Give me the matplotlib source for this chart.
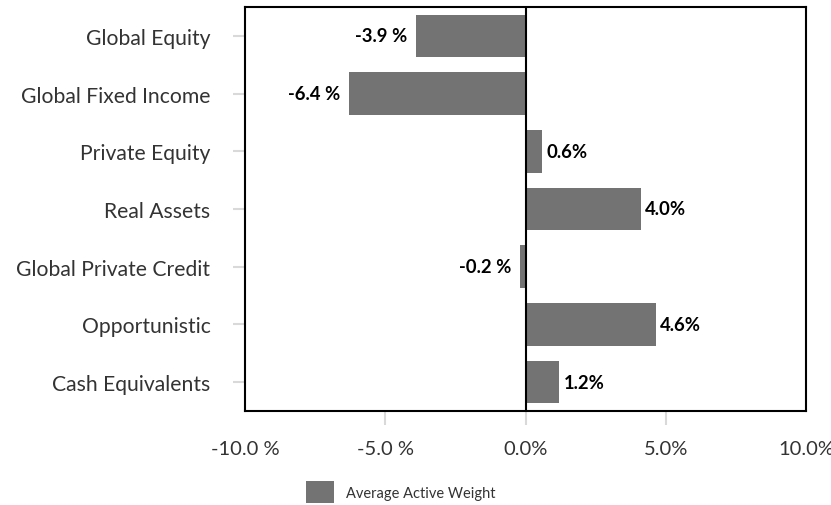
import matplotlib
matplotlib.use("Agg")
import matplotlib.pyplot as plt
from matplotlib.patches import Patch

categories = ["Global Equity", "Global Fixed Income", "Private Equity", "Real Assets",
              "Global Private Credit", "Opportunistic", "Cash Equivalents"]
values = [-3.9, -6.3, 0.6, 4.1, -0.2, 4.65, 1.2]
value_labels = ["-3.9 %", "-6.4 %", "0.6%", "4.0%", "-0.2 %", "4.6%", "1.2%"]
xticks = [-10, -5, 0, 5, 10]
xtick_labels = ["-10.0 %", "-5.0 %", "0.0%", "5.0%", "10.0%"]
series_name = "Average Active Weight"

plt.rcParams['font.family'] = ['Lato', 'DejaVu Sans']
BAR = "#737373"
TXT = "#333333"

fig = plt.figure(figsize=(8.31, 5.06), dpi=100)
ax = fig.add_axes([245/831, 1-412/506, (806-245)/831, (412-8)/506])

ypos = list(range(len(categories)))
ax.barh(ypos, values, height=0.74, color=BAR, zorder=2)
ax.axvline(0, color="black", lw=1.5, zorder=3)

for y, v, lab in zip(ypos, values, value_labels):
    if v < 0:
        ax.text(v - 0.32, y, lab, ha="right", va="center", fontsize=13.3,
                fontweight="bold", color="black")
    else:
        ax.text(v + 0.15, y, lab, ha="left", va="center", fontsize=13.3,
                fontweight="bold", color="black")

ax.set_xlim(-10, 10)
ax.set_ylim(len(categories) - 0.5, -0.5)
ax.set_yticks(ypos)
ax.set_yticklabels([c + " " for c in categories], fontsize=15.2, color=TXT)
ax.set_xticks(xticks)
ax.set_xticklabels(xtick_labels, fontsize=14.5, color=TXT)

for s in ax.spines.values():
    s.set_color("black")
    s.set_linewidth(1.5)

ax.tick_params(axis="y", length=9, width=1.5, color="#d9d9d9", pad=12)
ax.tick_params(axis="x", length=10, width=1.5, color="#d9d9d9", pad=11)
xt = ax.xaxis.get_major_ticks()
xt[0].tick1line.set_visible(False)
xt[-1].tick1line.set_visible(False)

handle = Patch(facecolor=BAR, edgecolor="none")
fig.legend([handle], [series_name], loc="center left",
           bbox_to_anchor=(293/831, 1-493/506), frameon=False,
           handlelength=1.9, handleheight=1.9, handletextpad=0.85,
           prop={'size': 10.5}, labelcolor=TXT)

fig.savefig("out.png", dpi=100)
